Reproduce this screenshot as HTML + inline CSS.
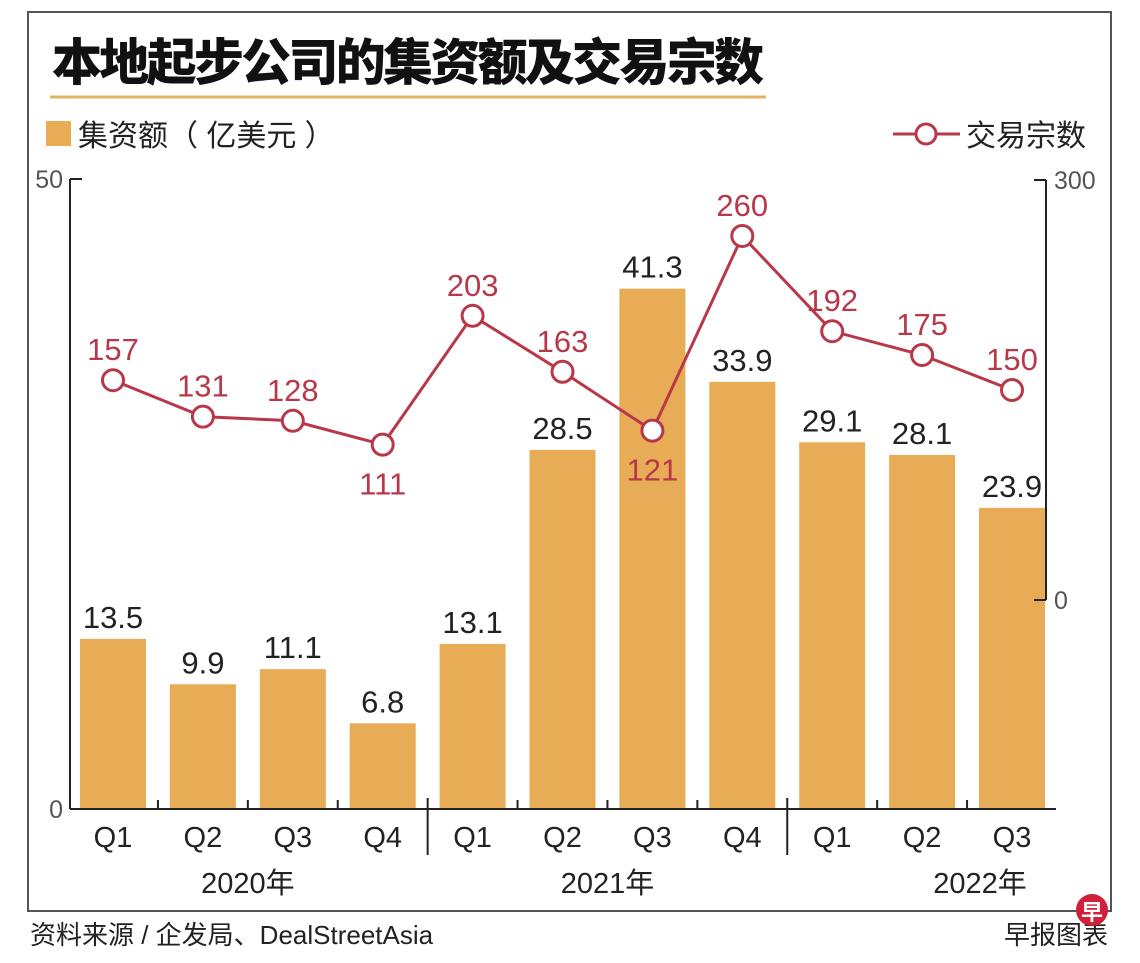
<!DOCTYPE html>
<html><head><meta charset="utf-8"><style>
html,body{margin:0;padding:0;background:#fff;}
svg{display:block;font-family:"Liberation Sans","Noto Sans CJK SC",sans-serif;}
</style></head><body>
<svg id="chart" width="1140" height="963" viewBox="0 0 1140 963">
<rect x="28" y="12" width="1083" height="899" fill="#fff" stroke="#555" stroke-width="2"/>
<text x="52" y="80" font-size="50" font-weight="900" fill="#111" font-family="'Noto Sans CJK SC',sans-serif" textLength="712">本地起步公司的集资额及交易宗数</text>
<line x1="50" y1="97" x2="766" y2="97" stroke="#e0b45e" stroke-width="3"/>
<rect x="46" y="121" width="25" height="25" fill="#e8ac56"/>
<text x="78" y="146" font-size="30" fill="#222">集资额（ 亿美元 ）</text>
<line x1="893" y1="134" x2="960" y2="134" stroke="#b8384a" stroke-width="3"/>
<circle cx="926" cy="134" r="10" fill="#fff" stroke="#b8384a" stroke-width="3"/>
<text x="966" y="146" font-size="30" fill="#222">交易宗数</text>
<g id="bars"></g>
<g id="axes"></g>
<g id="line"></g>
<text x="30" y="944" font-size="26" fill="#222">资料来源 / 企发局、DealStreetAsia</text>
<text x="1108" y="944" font-size="26" fill="#222" text-anchor="end">早报图表</text>
<circle cx="1092" cy="910" r="16" fill="#d0203a"/>
<text x="1092" y="920" font-size="22" fill="#fff" text-anchor="middle" font-weight="bold">早</text>
</svg>
<script>
const quarters=["Q1","Q2","Q3","Q4","Q1","Q2","Q3","Q4","Q1","Q2","Q3"];
const funding=[13.5,9.9,11.1,6.8,13.1,28.5,41.3,33.9,29.1,28.1,23.9];
const deals=[157,131,128,111,203,163,121,260,192,175,150];
const years=["2020年","2021年","2022年"];
const leftTicks=[0,50];
const rightTicks=[0,300];
const NS="http://www.w3.org/2000/svg";
function mk(tag,attrs,parent,text){const e=document.createElementNS(NS,tag);for(const k in attrs)e.setAttribute(k,attrs[k]);if(text!==undefined)e.textContent=text;parent.appendChild(e);return e;}
const x=i=>113+i*89.9;
const yL=v=>809-v*12.6;
const yR=v=>600-v*1.4;
const axes=document.getElementById('axes'),bars=document.getElementById('bars'),line=document.getElementById('line');
let a=mk('line',{x1:70,y1:yL(50),x2:70,y2:809,stroke:'#222','stroke-width':2},axes);


leftTicks.forEach(t=>{
 let tk=mk('line',{x1:70,y1:yL(t),x2:82,y2:yL(t),stroke:'#222','stroke-width':2},axes);
 
 
 let tl=mk('text',{x:63,y:yL(t)+9,'font-size':25,fill:'#555','text-anchor':'end'},axes,t);
 
 
});
a=mk('line',{x1:1046,y1:yR(300),x2:1046,y2:yR(0),stroke:'#222','stroke-width':2},axes);


rightTicks.forEach(t=>{
 let tk=mk('line',{x1:1034,y1:yR(t),x2:1046,y2:yR(t),stroke:'#222','stroke-width':2},axes);
 
 
 let tl=mk('text',{x:1054,y:yR(t)+9,'font-size':25,fill:'#555'},axes,t);
 
 
});
a=mk('line',{x1:70,y1:809,x2:1056,y2:809,stroke:'#222','stroke-width':2},axes);


for(let i=1;i<quarters.length;i++){
 const sep=(i%4===0);
 const xx=(x(i-1)+x(i))/2;
 let s=mk('line',{x1:xx,y1:sep?798:800,x2:xx,y2:sep?855:809,stroke:'#222','stroke-width':2},axes);
 
 
}
quarters.forEach((q,i)=>{
 let t=mk('text',{x:x(i),y:847,'font-size':29,fill:'#222','text-anchor':'middle'},axes,q);
 
 
});
const yearX=[(x(0)+x(3))/2,(x(4)+x(7))/2,980];
years.forEach((y,i)=>{
 let t=mk('text',{x:yearX[i],y:893,'font-size':29,fill:'#222','text-anchor':'middle'},axes,y);
 
 
});
funding.forEach((v,i)=>{
 let r=mk('rect',{x:x(i)-33,y:yL(v),width:66,height:809-yL(v),fill:'#e8ac56'},bars);
 
 
 let t=mk('text',{x:x(i),y:yL(v)-11,'font-size':31,fill:'#222','text-anchor':'middle'},bars,v.toFixed(1));
 
 
});
const pts=deals.map((d,i)=>x(i)+','+yR(d)).join(' ');
let pl=mk('polyline',{points:pts,fill:'none',stroke:'#b8384a','stroke-width':3},line);


deals.forEach((d,i)=>{
 let c=mk('circle',{cx:x(i),cy:yR(d),r:10.5,fill:'#fff',stroke:'#b8384a','stroke-width':3},line);
 
 
 const below=(i===3||i===6);
 let t=mk('text',{x:x(i),y:below?yR(d)+50:yR(d)-20,'font-size':31,fill:'#b8384a','text-anchor':'middle'},line,d);
 
 
});
</script>
</body></html>
